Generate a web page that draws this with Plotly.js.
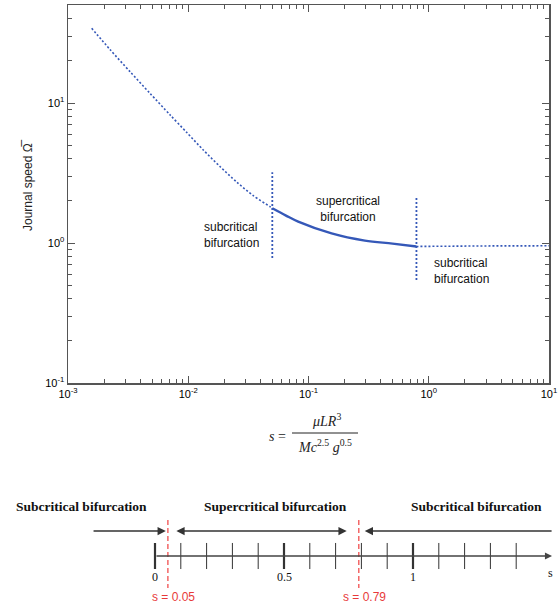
<!DOCTYPE html>
<html>
<head>
<meta charset="utf-8">
<script src="https://cdn.plot.ly/plotly-3.0.1.min.js"></script>
<style>
  html, body { margin: 0; padding: 0; background: #fff; }
  #chart { width: 560px; height: 607px; }
</style>
</head>
<body>
<div id="chart"></div>
<script>
// Journal speed against the bearing parameter s (log-log)
const sSubLeft     = [0.001574, 0.002234, 0.003276, 0.004804, 0.007045, 0.009698, 0.01333, 0.01835, 0.02525, 0.03469, 0.04776, 0.05];
const omegaSubLeft = [34.2,     24.1,     16.76,    11.73,    8.24,     6.17,     4.62,    3.52,    2.73,    2.18,    1.82,    1.77];

const sSuper       = [0.05, 0.065, 0.0821, 0.1556, 0.2943, 0.5,  0.79];
const omegaSuper   = [1.77, 1.57,  1.42,   1.17,   1.04,   0.99, 0.945];

const sSubRight     = [0.79,  1.5,   3.0,   10.0];
const omegaSubRight = [0.945, 0.952, 0.953, 0.955];

// Bifurcation boundaries and the extent of their markers on the speed axis
const boundaryS      = [0.05, 0.79];
const boundaryLow    = [0.78, 0.545];
const boundaryHigh   = [3.2,  2.13];

// Decade tick labels
const xTickVals = [0.001, 0.01, 0.1, 1, 10];
const xTickText = ["10<sup>-3</sup>", "10<sup>-2</sup>", "10<sup>-1</sup>", "10<sup>0</sup>", "10<sup>1</sup>"];
const yTickVals = [0.1, 1, 10];
const yTickText = ["10<sup>-1</sup>", "10<sup>0</sup>", "10<sup>1</sup>"];

// Schematic number line of s
const scaleTicks      = [0, 0.1, 0.2, 0.3, 0.4, 0.5, 0.6, 0.7, 0.8, 0.9, 1.0, 1.1, 1.2, 1.3, 1.4];
const scaleMajor      = [0, 0.5, 1];
const scaleMajorText  = ["0", "0.5", "1"];
const regionNames     = ["Subcritical bifurcation", "Supercritical bifurcation", "Subcritical bifurcation"];
const boundaryLabels  = ["s = 0.05", "s = 0.79"];

const W = 560, H = 607;
const px = x => x / W;
const py = y => 1 - y / H;

const blue = "#3558b8";
const axisGrey = "#555";
const sans = "Liberation Sans, Arial, sans-serif";
const serif = "Liberation Serif, Times New Roman, serif";

const traces = [
  { x: sSubLeft, y: omegaSubLeft, mode: "lines", line: { color: blue, width: 1.6, dash: "2px,2px", shape: "spline", smoothing: 0.8 }, hoverinfo: "skip" },
  { x: sSuper, y: omegaSuper, mode: "lines", line: { color: blue, width: 2.4, shape: "spline" }, hoverinfo: "skip" },
  { x: sSubRight, y: omegaSubRight, mode: "lines", line: { color: blue, width: 1.6, dash: "2px,2px" }, hoverinfo: "skip" }
];

boundaryS.forEach((s, i) => {
  traces.push({ x: [s, s], y: [boundaryLow[i], boundaryHigh[i]], mode: "lines",
    line: { color: blue, width: 1.8, dash: "2px,2px" }, hoverinfo: "skip" });
});

// tick marks of the number line, major ones drawn heavier
traces.push({
  x: scaleTicks, y: scaleTicks.map(() => 0), xaxis: "x2", yaxis: "y2", mode: "markers",
  marker: { symbol: "line-ns", size: 18.6, color: "#333",
    line: { color: "#333", width: scaleTicks.map(t => scaleMajor.includes(t) ? 2.2 : 1) } },
  hoverinfo: "skip"
});

const logAxis = {
  type: "log", tickmode: "array",
  showline: true, mirror: "allticks", linecolor: axisGrey, linewidth: 1.5,
  ticks: "inside", ticklen: 7, tickwidth: 1, tickcolor: axisGrey,
  minor: { ticks: "inside", ticklen: 4, tickwidth: 1, tickcolor: axisGrey, dtick: "D1", showgrid: false },
  showgrid: false, zeroline: false,
  tickfont: { family: sans, size: 11, color: "#000" }
};

const annotations = [
  { xref: "paper", yref: "paper", x: px(202), y: py(235), xanchor: "left", yanchor: "middle", align: "left",
    text: "subcritical<br>bifurcation", showarrow: false, font: { family: sans, size: 12, color: "#111" } },
  { xref: "paper", yref: "paper", x: px(348), y: py(209), xanchor: "center", yanchor: "middle", align: "center",
    text: "supercritical<br>bifurcation", showarrow: false, font: { family: sans, size: 12, color: "#111" } },
  { xref: "paper", yref: "paper", x: px(432), y: py(271), xanchor: "left", yanchor: "middle", align: "left",
    text: "subcritical<br>bifurcation", showarrow: false, font: { family: sans, size: 12, color: "#111" } },
  // y axis title
  { xref: "paper", yref: "paper", x: px(28), y: py(185), xanchor: "center", yanchor: "middle", textangle: -90,
    text: "Journal speed \u03A9\u0305", showarrow: false, font: { family: sans, size: 12, color: "#222" } },
  // x axis title: s = mu L R^3 / (M c^2.5 g^0.5)
  { xref: "paper", yref: "paper", x: px(277), y: py(436), xanchor: "center", yanchor: "middle",
    text: "<i>s</i> =", showarrow: false, font: { family: serif, size: 14, color: "#222" } },
  { xref: "paper", yref: "paper", x: px(326), y: py(431), xanchor: "center", yanchor: "bottom",
    text: "<i>\u03BCLR</i><sup>3</sup>", showarrow: false, font: { family: serif, size: 14, color: "#222" } },
  { xref: "paper", yref: "paper", x: px(325), y: py(435), xanchor: "center", yanchor: "top",
    text: "<i>Mc</i><sup>2.5</sup> <i>g</i><sup>0.5</sup>", showarrow: false, font: { family: serif, size: 14, color: "#222" } }
];

// region names above the number line
[81.5, 275, 476.5].forEach((cx, i) => {
  annotations.push({ xref: "paper", yref: "paper", x: px(cx), y: py(506), xanchor: "center", yanchor: "middle",
    text: "<b>" + regionNames[i] + "</b>", showarrow: false, font: { family: serif, size: 13.5, color: "#111" } });
});

// direction arrows toward each boundary
const arrowY = 0.49;
const arrowStyle = { arrowcolor: "#333", arrowwidth: 1.5, arrowhead: 2, arrowsize: 1.1, startarrowhead: 2, startarrowsize: 1.1, text: "" };
annotations.push(Object.assign({ xref: "x2", yref: "y2", axref: "x2", ayref: "y2",
  x: boundaryS[0] - 0.008, y: arrowY, ax: -0.244, ay: arrowY, showarrow: true }, arrowStyle));
annotations.push(Object.assign({ xref: "x2", yref: "y2", axref: "x2", ayref: "y2",
  x: boundaryS[1] - 0.047, y: arrowY, ax: boundaryS[0] + 0.027, ay: arrowY, showarrow: true, arrowside: "end+start" }, arrowStyle));
annotations.push(Object.assign({ xref: "x2", yref: "y2", axref: "x2", ayref: "y2",
  x: boundaryS[1] + 0.023, y: arrowY, ax: 1.543, ay: arrowY, showarrow: true }, arrowStyle));

// the number line itself
annotations.push(Object.assign({ xref: "x2", yref: "y2", axref: "x2", ayref: "y2",
  x: 1.539, y: 0, ax: 0, ay: 0, showarrow: true }, arrowStyle, { arrowcolor: "#444", arrowwidth: 1.3 }));

scaleMajor.forEach((v, i) => {
  annotations.push({ xref: "x2", yref: "paper", x: v, y: py(577), xanchor: "center", yanchor: "middle",
    text: scaleMajorText[i], showarrow: false, font: { family: serif, size: 12, color: "#111" } });
});
annotations.push({ xref: "x2", yref: "paper", x: 1.531, y: py(573), xanchor: "center", yanchor: "middle",
  text: "s", showarrow: false, font: { family: serif, size: 12, color: "#111" } });

boundaryS.forEach((s, i) => {
  annotations.push({ xref: "x2", yref: "paper", x: s + 0.023, y: py(597), xanchor: "center", yanchor: "middle",
    text: boundaryLabels[i], showarrow: false, font: { family: sans, size: 12, color: "#e83a3a" } });
});

const shapes = [
  // fraction bar of the x axis title
  { type: "line", xref: "paper", yref: "paper", x0: px(292), x1: px(358), y0: py(433), y1: py(433), line: { color: "#222", width: 1 } }
];
boundaryS.forEach(s => {
  shapes.push({ type: "line", xref: "x2", yref: "paper", x0: s, x1: s, y0: py(520), y1: py(588),
    line: { color: "#f04040", width: 1.2, dash: "5px,3px" } });
});

const layout = {
  width: W, height: H,
  margin: { l: 0, r: 0, t: 0, b: 0, pad: 0 },
  paper_bgcolor: "#fff", plot_bgcolor: "#fff",
  showlegend: false,
  xaxis: Object.assign({}, logAxis, { range: [-3, 1], domain: [px(68), px(549)], anchor: "y",
    tickvals: xTickVals, ticktext: xTickText }),
  yaxis: Object.assign({}, logAxis, { range: [-1, 1.7], domain: [py(383), py(5)], anchor: "x",
    tickvals: yTickVals, ticktext: yTickText }),
  xaxis2: { domain: [0, 1], range: [-155 / 258, 405 / 258], anchor: "y2", visible: false, fixedrange: true },
  yaxis2: { domain: [0, 102 / H], range: [-1, 1], anchor: "x2", visible: false, fixedrange: true },
  annotations: annotations,
  shapes: shapes
};

Plotly.newPlot("chart", traces, layout, { staticPlot: true, displayModeBar: false });
</script>
</body>
</html>
